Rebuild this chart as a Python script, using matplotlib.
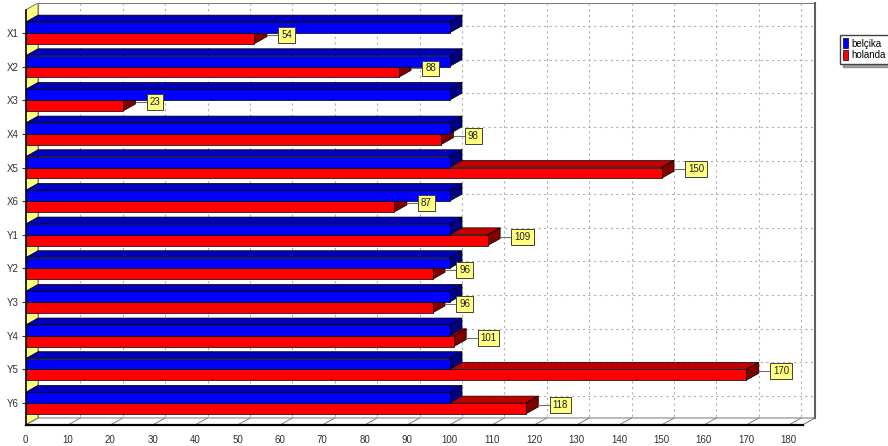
import matplotlib
matplotlib.use("Agg")
import matplotlib.pyplot as plt
from matplotlib.patches import Polygon, Patch, Rectangle

plt.rcParams['font.family'] = ['Liberation Sans', 'DejaVu Sans']

categories = ["X1", "X2", "X3", "X4", "X5", "X6", "Y1", "Y2", "Y3", "Y4", "Y5", "Y6"]
belcika = [100, 100, 100, 100, 100, 100, 100, 100, 100, 100, 100, 100]
holanda = [54, 88, 23, 98, 150, 87, 109, 96, 96, 101, 170, 118]
series_names = ["belçika", "holanda"]
xticks = list(range(0, 181, 10))

W, H = 888, 446
fig = plt.figure(figsize=(W / 100, H / 100), dpi=100)
ax_left_px, ax_right_px, ax_top_px, ax_bot_px = 25.5, 815, 3, 425
ax = fig.add_axes([ax_left_px / W, (H - ax_bot_px) / H,
                   (ax_right_px - ax_left_px) / W, (ax_bot_px - ax_top_px) / H])

px_per_unit = 4.24
DX = 12.5 / px_per_unit
XMAX = (ax_right_px - ax_left_px) / px_per_unit - DX
ft, fb = -0.68, 11.65
py_per_cat = (ax_bot_px - ax_top_px) / (fb - (ft - 0.21))
DY = 7 / py_per_cat
ax.set_xlim(0, XMAX + DX)
ax.set_ylim(fb, ft - DY)
for s in ax.spines.values():
    s.set_visible(False)
ax.set_facecolor('none')

# back wall
ax.add_patch(Rectangle((DX, ft - DY), XMAX, fb - ft, facecolor='white',
                       edgecolor='#808080', lw=0.8, zorder=0))
# grid on back wall
for v in xticks:
    ax.plot([v + DX, v + DX], [ft - DY, fb - DY], color='#b0b0b0', lw=0.8,
            ls=(0, (2, 3)), zorder=1)
for i in range(len(categories)):
    ax.plot([DX, XMAX + DX], [i - DY, i - DY], color='#b0b0b0', lw=0.8,
            ls=(0, (2, 3)), zorder=1)
# right edge of back wall
ax.plot([XMAX + DX, XMAX + DX], [ft - DY, fb - DY], color='#606060', lw=1.5, zorder=2, clip_on=False)
# left wall
ax.add_patch(Polygon([(0, ft), (DX, ft - DY), (DX, fb - DY), (0, fb)],
                     closed=True, facecolor='#ffff80', edgecolor='#606060', lw=0.6, zorder=2))
# floor
ax.add_patch(Polygon([(0, fb), (XMAX, fb), (XMAX + DX, fb - DY), (DX, fb - DY)],
                     closed=True, facecolor='white', edgecolor='#606060', lw=0.6, zorder=2, clip_on=False))
for v in xticks:
    ax.plot([v, v + DX], [fb, fb - DY], color='#808080', lw=0.7, zorder=2)
ax.plot([0, XMAX], [fb, fb], color='black', lw=1.6, zorder=6, clip_on=False)
ax.plot([0, 0], [ft, fb], color='black', lw=1.2, zorder=6, clip_on=False)


def bar3d(y0, y1, v, front, top, side, z):
    ax.add_patch(Polygon([(0, y0), (v, y0), (v + DX, y0 - DY), (DX, y0 - DY)],
                         closed=True, facecolor=top, edgecolor='black', lw=0.5, zorder=z))
    ax.add_patch(Polygon([(v, y0), (v + DX, y0 - DY), (v + DX, y1 - DY), (v, y1)],
                         closed=True, facecolor=side, edgecolor='black', lw=0.5, zorder=z))
    ax.add_patch(Rectangle((0, y0), v, y1 - y0, facecolor=front,
                           edgecolor='black', lw=0.5, zorder=z))


BH = 0.32
for i, (b, h) in enumerate(zip(belcika, holanda)):
    bar3d(i, i + BH, h, '#ff0000', '#c00000', '#800000', 3)
    bar3d(i - BH, i, b, '#0000ff', '#0000b8', '#000080', 4)
    yl = i + BH / 2 - DY / 2
    ax.plot([h + DX, h + 6.3], [yl, yl], color='#707070', lw=0.8, zorder=5)
    ax.text(h + 6.3, yl, str(h), fontsize=7, ha='left', va='center', color='#202020',
            zorder=7, bbox=dict(boxstyle='square,pad=0.3', facecolor='#ffff80',
                                edgecolor='#404040', lw=0.7))

ax.set_yticks(range(len(categories)))
ax.set_yticklabels(categories, fontsize=7, color='#303030')
ax.set_xticks(xticks)
ax.set_xticklabels([str(v) for v in xticks], fontsize=7, color='#303030')
ax.set_xticks([v + 5 for v in xticks[:-1]], minor=True)
ax.tick_params(axis='x', which='major', length=0, pad=7)
ax.tick_params(axis='x', which='minor', length=2.5, direction='in', color='#606060')
ax.tick_params(axis='y', length=3, color='#303030', pad=2)

fig.legend(handles=[Patch(facecolor='#0000ff', edgecolor='black', lw=0.5),
                    Patch(facecolor='#ff0000', edgecolor='black', lw=0.5)],
           labels=series_names, loc='upper left', bbox_to_anchor=(840 / W, 1 - 35 / H),
           fontsize=7, frameon=True, fancybox=False, shadow=True, handlelength=0.45,
           handleheight=1.2, handletextpad=0.4, borderpad=0.35, labelspacing=0.15,
           edgecolor='#404040', borderaxespad=0)

fig.savefig("out.png", dpi=100)
